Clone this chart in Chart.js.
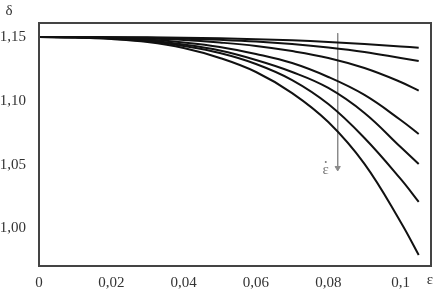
<!DOCTYPE html>
<html>
<head>
<meta charset="utf-8">
<script src="https://cdn.jsdelivr.net/npm/chart.js@4"></script>
<style>
  html, body { margin: 0; padding: 0; background: #fff; }
  #wrap { width: 444px; height: 292px; }
</style>
</head>
<body>
<div id="wrap"><canvas id="myChart"></canvas></div>
<script>
// strain values (epsilon)
const eps = [0, 0.01, 0.02, 0.03, 0.04, 0.05, 0.06, 0.07, 0.08, 0.09, 0.1, 0.105];

// delta for each strain rate, top curve first
const delta1 = [1.1500, 1.1500, 1.1499, 1.1498, 1.1495, 1.1490, 1.1483, 1.1474, 1.1461, 1.1445, 1.1426, 1.1416];
const delta2 = [1.1500, 1.1500, 1.1498, 1.1494, 1.1487, 1.1478, 1.1465, 1.1445, 1.1418, 1.1383, 1.1336, 1.1312];
const delta3 = [1.1500, 1.1499, 1.1495, 1.1488, 1.1477, 1.1457, 1.1430, 1.1390, 1.1336, 1.1257, 1.1148, 1.1080];
const delta4 = [1.1500, 1.1498, 1.1492, 1.1480, 1.1457, 1.1422, 1.1367, 1.1296, 1.1187, 1.1046, 1.0850, 1.0740];
const delta5 = [1.1500, 1.1498, 1.1491, 1.1473, 1.1441, 1.1394, 1.1320, 1.1226, 1.1101, 1.0905, 1.0638, 1.0505];
const delta6 = [1.1500, 1.1498, 1.1488, 1.1469, 1.1430, 1.1375, 1.1289, 1.1163, 1.0975, 1.0709, 1.0388, 1.0208];
const delta7 = [1.1500, 1.1496, 1.1484, 1.1461, 1.1414, 1.1336, 1.1226, 1.1061, 1.0834, 1.0506, 1.0051, 0.9793];

// arrow showing increasing strain rate
const arrowX = [0.0826, 0.0826];
const arrowY = [1.153, 1.0474];

const xTicks = [0, 0.02, 0.04, 0.06, 0.08, 0.1];
const xTickLabels = ['0', '0,02', '0,04', '0,06', '0,08', '0,1'];
const yTicks = [1.00, 1.05, 1.10, 1.15];
const yTickLabels = ['1,00', '1,05', '1,10', '1,15'];

const font = { family: '"Liberation Serif", "DejaVu Serif", serif', size: 15 };

function pts(ys) {
    return eps.map((x, i) => ({ x: x, y: ys[i] }));
}

const curves = [delta1, delta2, delta3, delta4, delta5, delta6, delta7].map(d => ({
    data: pts(d),
    borderColor: '#111',
    borderWidth: 2,
    pointRadius: 0,
    tension: 0.4,
    fill: false
}));

const arrow = {
    data: arrowX.map((x, i) => ({ x: x, y: arrowY[i] })),
    borderColor: '#8a8a8a',
    backgroundColor: '#8a8a8a',
    borderWidth: 1,
    pointRadius: [0, 3],
    pointStyle: 'triangle',
    rotation: 180,
    fill: false
};

const extras = {
    id: 'extras',
    afterDraw(chart) {
        const c = chart.ctx, a = chart.chartArea;
        const sx = chart.scales.x, sy = chart.scales.y;
        c.save();
        c.strokeStyle = '#444';
        c.lineWidth = 2;
        c.strokeRect(a.left, a.top, a.right - a.left, a.bottom - a.top);
        c.font = '15px "Liberation Serif", serif';
        c.fillStyle = '#333';
        c.textAlign = 'center';
        c.textBaseline = 'middle';
        c.fillText('δ', 9, 11);
        c.fillText('ε', a.right - 1, 280);
        // strain-rate label: epsilon with a dot above
        const lx = sx.getPixelForValue(0.0793), ly = sy.getPixelForValue(1.0458);
        c.fillStyle = '#777';
        c.fillText('ε', lx, ly);
        c.beginPath();
        c.arc(lx, ly - 8, 1, 0, Math.PI * 2);
        c.fill();
        c.restore();
    }
};

const ctx = document.getElementById('myChart');
new Chart(ctx, {
    type: 'line',
    data: { datasets: curves.concat([arrow]) },
    options: {
        responsive: true,
        maintainAspectRatio: false,
        animation: false,
        layout: { padding: { left: 0, top: 23, right: 13, bottom: 0 } },
        plugins: {
            legend: { display: false },
            tooltip: { enabled: false }
        },
        scales: {
            x: {
                type: 'linear',
                min: 0,
                max: 0.1084,
                grid: { display: false },
                border: { display: false },
                afterBuildTicks: s => { s.ticks = xTicks.map(v => ({ value: v })); },
                afterFit: s => { s.height = 26; },
                ticks: {
                    color: '#333',
                    font: font,
                    padding: 0,
                    maxRotation: 0,
                    autoSkip: false,
                    callback: (v) => xTickLabels[xTicks.indexOf(v)]
                }
            },
            y: {
                min: 0.9706,
                max: 1.161,
                grid: { display: false },
                border: { display: false },
                afterBuildTicks: s => { s.ticks = yTicks.map(v => ({ value: v })); },
                afterFit: s => { s.width = 39; },
                ticks: {
                    color: '#333',
                    font: font,
                    padding: 5,
                    autoSkip: false,
                    callback: (v) => yTickLabels[yTicks.indexOf(v)]
                }
            }
        }
    },
    plugins: [extras]
});
</script>
</body>
</html>
